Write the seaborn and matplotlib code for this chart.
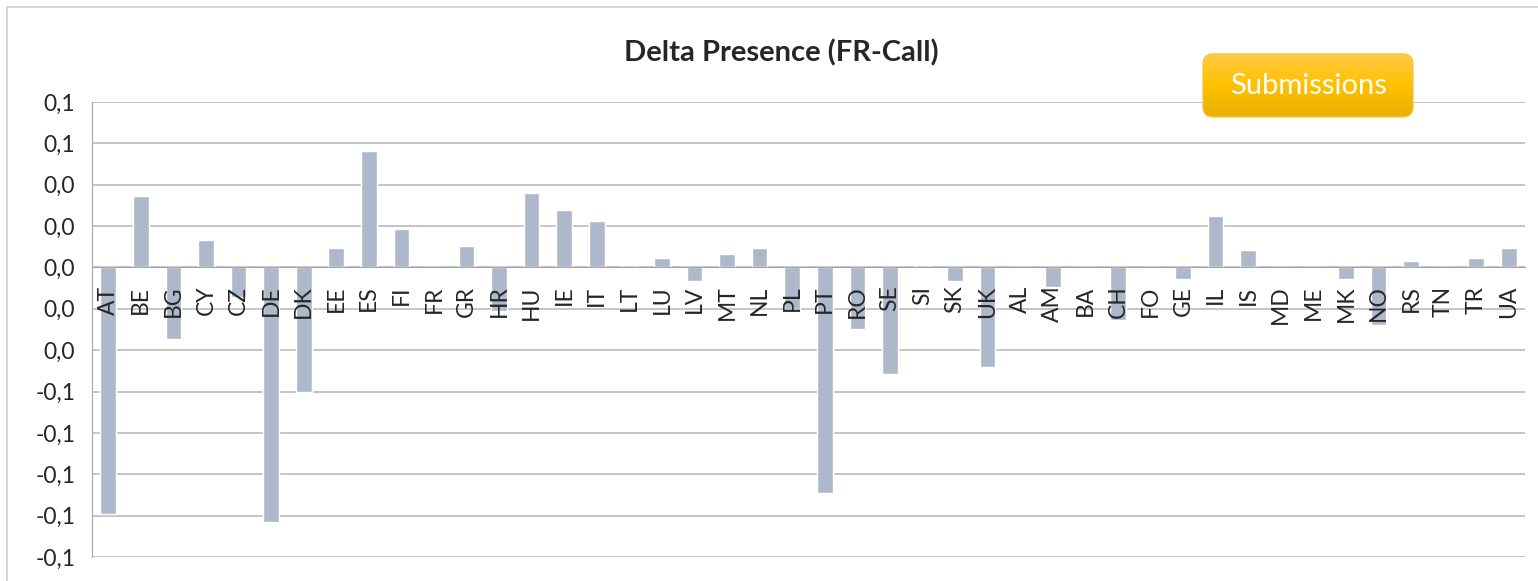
"""Delta presence per country (FR-Call), Excel-style column chart."""
import matplotlib
matplotlib.use("Agg")
import matplotlib.pyplot as plt
import numpy as np
import seaborn as sns
from matplotlib.patches import FancyBboxPatch, Rectangle

countries = ["AT", "BE", "BG", "CY", "CZ", "DE", "DK", "EE", "ES", "FI", "FR",
             "GR", "HR", "HU", "IE", "IT", "LT", "LU", "LV", "MT", "NL", "PL",
             "PT", "RO", "SE", "SI", "SK", "UK", "AL", "AM", "BA", "CH", "FO",
             "GE", "IL", "IS", "MD", "ME", "MK", "NO", "RS", "TN", "TR", "UA"]
delta = [-0.119, 0.0347, -0.0347, 0.0131, -0.0142, -0.1229, -0.0604, 0.0094,
         0.0565, 0.0186, 0.0, 0.0105, -0.0212, 0.0362, 0.0279, 0.0224, 0.0014,
         0.0045, -0.0066, 0.0065, 0.0095, -0.0199, -0.1091, -0.0297, -0.0513,
         0.0014, -0.0066, -0.0483, 0.0, -0.0095, 0.0, -0.0252, 0.0, -0.0054,
         0.025, 0.0082, 0.0, 0.0, -0.0054, -0.0276, 0.0032, 0.0, 0.0045, 0.0095]
y_ticks = [0.08, 0.06, 0.04, 0.02, 0.0, -0.02, -0.04, -0.06, -0.08, -0.10, -0.12, -0.14]
y_labels = ["0,1", "0,1", "0,0", "0,0", "0,0", "0,0", "0,0",
            "-0,1", "-0,1", "-0,1", "-0,1", "-0,1"]
title = "Delta Presence (FR-Call)"
button_text = "Submissions"

sns.set_style("white")
plt.rcParams["font.family"] = ["Lato", "DejaVu Sans"]

W, H = 1538, 581
fig = plt.figure(figsize=(W / 100, H / 100), dpi=100)
ax = fig.add_axes([92 / W, (H - 557) / H, (1525 - 92) / W, (557 - 102) / H])

sns.barplot(x=countries, y=delta, color="#ADB9CA", saturation=1, width=0.48,
            ax=ax, zorder=3)

grey = "#A6A6A6"
ax.set_ylim(-0.14, 0.08)
ax.set_xlim(-0.5, len(countries) - 0.5)
ax.set_yticks(y_ticks)
ax.set_yticklabels(y_labels, fontsize=16.5)
ax.yaxis.grid(True, color="#C0C0C0", linewidth=1.3, zorder=0)
ax.set_axisbelow(True)

for side in ["top", "right"]:
    ax.spines[side].set_visible(False)
ax.spines["left"].set_color(grey)
ax.spines["bottom"].set_color(grey)
ax.spines["bottom"].set_position(("data", 0))
ax.spines["bottom"].set_zorder(4)

ax.set_xticks(np.arange(-0.5, len(countries), 1), minor=True)
ax.tick_params(axis="x", which="major", length=0, pad=13, labelsize=16.5,
               labelrotation=90)
ax.tick_params(axis="x", which="minor", length=6, color=grey, width=1.2)
ax.tick_params(axis="y", length=7, color=grey, width=1.2, pad=5)
for lab in ax.get_xticklabels():
    lab.set_verticalalignment("top")
# country labels sit on top of the bars, as in Excel
ax.xaxis.set_zorder(5)
ax.set_xlabel("")
ax.set_ylabel("")

fig.text(781 / W, 1 - 53 / H, title, ha="center", va="center",
         fontsize=21, fontweight="bold")

# orange "Submissions" button with a vertical gradient
bx, by, bw, bh = 1202, 53, 212, 65
bax = fig.add_axes([bx / W, (H - by - bh) / H, bw / W, bh / H])
bax.set_xlim(0, bw)
bax.set_ylim(0, bh)
bax.axis("off")
grad = np.linspace(0, 1, 100).reshape(-1, 1)
cmap = matplotlib.colors.LinearSegmentedColormap.from_list(
    "btn", ["#E8B000", "#FFC000", "#FFCC45"])
img = bax.imshow(grad, cmap=cmap, extent=(0, bw, 0, bh), origin="lower",
                 aspect="auto")
shape = FancyBboxPatch((1, 1), bw - 2, bh - 2,
                       boxstyle="round,pad=0,rounding_size=10",
                       facecolor="none", edgecolor="#F5C542", linewidth=1)
bax.add_patch(shape)
img.set_clip_path(shape)
bax.text(bw / 2, bh / 2 - 1, button_text, ha="center", va="center",
         color="white", fontsize=21)

# chart border (left and top edges visible)
fig.patches.append(Rectangle((7 / W, -0.5), 2, 0.5 + (H - 7) / H, fill=False,
                             edgecolor="#D0D0D0", linewidth=1.2,
                             transform=fig.transFigure))

fig.savefig("out.png", dpi=100)
plt.close(fig)
